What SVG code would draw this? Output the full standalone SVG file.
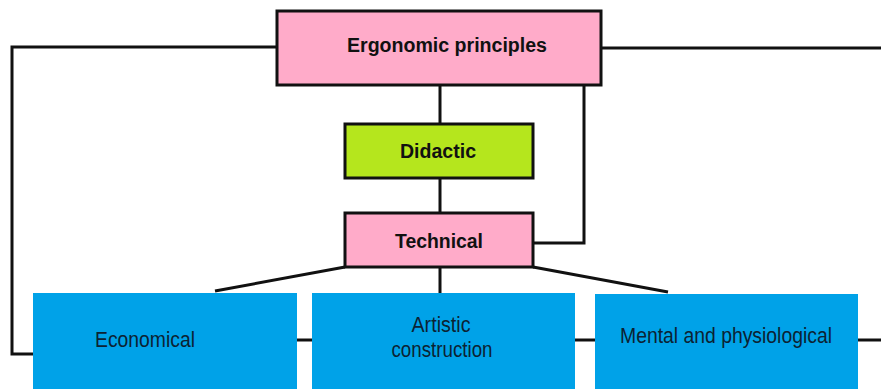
<svg xmlns="http://www.w3.org/2000/svg" width="881" height="389" viewBox="0 0 881 389">
<style>
.box{stroke:#111;stroke-width:3}
.pink{fill:#ffabc9}
.green{fill:#b5e61d}
.blue{fill:#00a2e8}
.conn{fill:none;stroke:#111;stroke-width:3}
.b{font-family:"Liberation Sans",Arial,sans-serif;font-weight:bold;font-size:20px;fill:#111;text-anchor:middle}
.n{font-family:"Liberation Sans",Arial,sans-serif;font-size:22px;fill:#0c2233;text-anchor:middle}
</style>
<rect width="881" height="389" fill="#fff"/>
<g id="connectors">
<polyline class="conn" points="277,47 12,47 12,354 35,354"/>
<line class="conn" x1="601" y1="48" x2="881" y2="48"/>
<line class="conn" x1="440" y1="85" x2="440" y2="123"/>
<line class="conn" x1="440" y1="178" x2="440" y2="213"/>
<polyline class="conn" points="584,85 584,243 533,243"/>
<line class="conn" x1="345" y1="267" x2="215" y2="291"/>
<line class="conn" x1="533" y1="267" x2="668" y2="292"/>
<line class="conn" x1="440" y1="267" x2="440" y2="293"/>
<line class="conn" x1="297" y1="340" x2="312" y2="340"/>
<line class="conn" x1="575" y1="340" x2="595" y2="340"/>
<line class="conn" x1="858" y1="340" x2="881" y2="340"/>
</g>
<g id="ergonomic">
<rect class="box pink" x="277" y="11" width="324" height="74"/>
<text class="b" x="447" y="52" textLength="200" lengthAdjust="spacingAndGlyphs">Ergonomic principles</text>
</g>
<g id="didactic">
<rect class="box green" x="345" y="124" width="188" height="54"/>
<text class="b" x="438" y="158" textLength="76" lengthAdjust="spacingAndGlyphs">Didactic</text>
</g>
<g id="technical">
<rect class="box pink" x="345" y="213" width="188" height="54"/>
<text class="b" x="439" y="248" textLength="88" lengthAdjust="spacingAndGlyphs">Technical</text>
</g>
<g id="economical">
<rect class="blue" x="33" y="293" width="264" height="96"/>
<text class="n" x="145" y="347" textLength="100" lengthAdjust="spacingAndGlyphs">Economical</text>
</g>
<g id="artistic">
<rect class="blue" x="312" y="293" width="263" height="96"/>
<text class="n" x="441" y="332" textLength="59" lengthAdjust="spacingAndGlyphs">Artistic</text>
<text class="n" x="442" y="357" textLength="101" lengthAdjust="spacingAndGlyphs">construction</text>
</g>
<g id="mental">
<rect class="blue" x="595" y="294" width="263" height="95"/>
<text class="n" x="726" y="343" textLength="212" lengthAdjust="spacingAndGlyphs">Mental and physiological</text>
</g>
</svg>
